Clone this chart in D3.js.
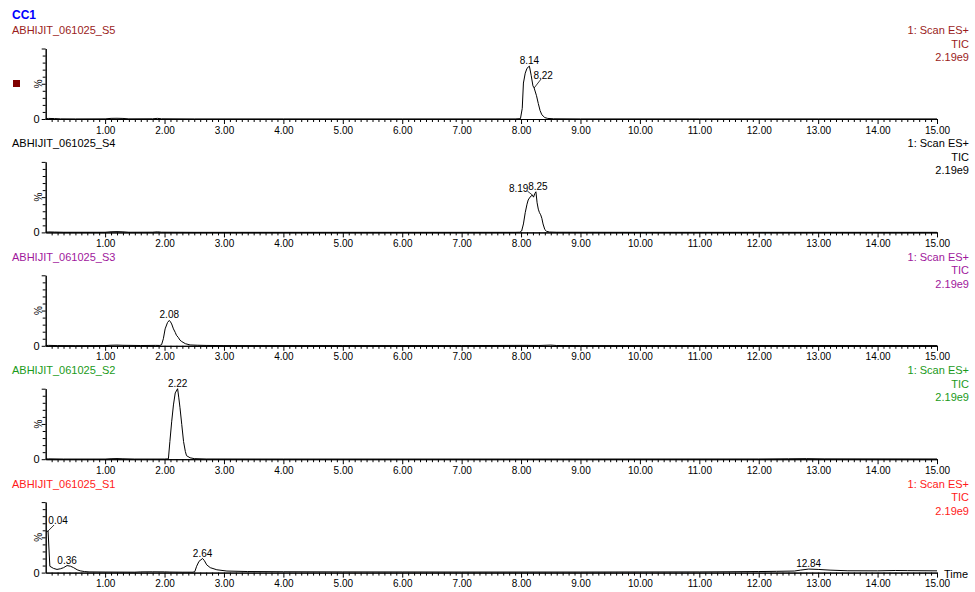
<!DOCTYPE html>
<html>
<head>
<meta charset="utf-8">
<script src="https://cdn.jsdelivr.net/npm/d3@7"></script>
<style>
  html, body { margin: 0; padding: 0; background: #fff; }
  svg { display: block; font-family: "Liberation Sans", Arial, sans-serif; }
</style>
</head>
<body>
<svg id="chart" width="975" height="592"></svg>
<script>
// ---------------- DATA ----------------
const chartTitle = "CC1";
const sampleNames = ["ABHIJIT_061025_S5", "ABHIJIT_061025_S4", "ABHIJIT_061025_S3", "ABHIJIT_061025_S2", "ABHIJIT_061025_S1"];
const scanLabel = "1: Scan ES+";
const ticLabel = "TIC";
const intensityLabel = "2.19e9";
const xTickLabels = ["1.00","2.00","3.00","4.00","5.00","6.00","7.00","8.00","9.00","10.00","11.00","12.00","13.00","14.00","15.00"];

// S5 : time (min), intensity (%)
const s5Time = [0.00,0.05,0.15,0.25,0.50,1.00,1.10,1.20,1.30,1.40,1.80,1.88,1.95,2.50,4.00,6.00,7.90,7.99,8.02,8.04,8.07,8.10,8.14,8.17,8.20,8.22,8.26,8.29,8.32,8.35,8.40,8.45,8.55,9.00,11.00,13.00,15.00];
const s5Pct  = [0.3, 0.8, 0.6, 0.2, 0.1, 0.2, 0.9, 1.0, 0.8, 0.2, 0.3, 0.9, 0.3, 0.1, 0.1, 0.1, 0.1, 0.5, 15,  51,  65,  72,  75,  62,  47,  44,  33,  22,  12,  6,   2,   0.8, 0.3, 0.1, 0.1, 0.1, 0.1];
const s5Peaks = [8.14, 8.22];

// S4
const s4Time = [0.00,0.05,0.15,0.30,1.00,1.10,1.20,1.30,1.40,1.80,1.88,1.95,2.50,4.00,6.00,7.90,7.98,8.01,8.04,8.07,8.10,8.12,8.15,8.19,8.21,8.23,8.25,8.27,8.29,8.31,8.33,8.35,8.37,8.40,8.43,8.48,8.60,10.00,12.00,15.00];
const s4Pct  = [0.3, 0.7, 0.5, 0.2, 0.2, 0.9, 1.1, 0.8, 0.2, 0.3, 0.8, 0.3, 0.1, 0.1, 0.1, 0.1, 0.3, 2,   12,  28,  40,  46,  50,  53,  50,  55,  57.6,42,  33,  28,  25,  20,  12,  4,   1.5, 0.5, 0.2, 0.1, 0.1, 0.1];
const s4Peaks = [8.19, 8.25];

// S3
const s3Time = [0.00,0.05,0.20,0.50,1.00,1.10,1.20,1.30,1.60,1.85,1.92,1.95,1.98,2.01,2.05,2.08,2.10,2.12,2.15,2.18,2.20,2.23,2.26,2.29,2.35,2.43,2.55,2.70,3.00,5.00,7.00,8.10,8.30,8.50,8.60,9.00,11.00,13.00,15.00];
const s3Pct  = [0.4, 0.6, 0.3, 0.2, 0.3, 0.8, 1.0, 0.7, 0.4, 0.6, 0.5, 1.5, 10,  24,  33,  36,  34,  31,  24,  19,  15,  12,  8,   6,   3,   1.2, 0.8, 0.5, 0.3, 0.3, 0.3, 0.6, 0.4, 1.0, 0.4, 0.3, 0.3, 0.4, 0.3];
const s3Peaks = [2.08];

// S2
const s2Time = [0.00,0.05,0.30,1.00,1.10,1.20,1.30,1.50,2.00,2.065,2.09,2.12,2.15,2.18,2.22,2.24,2.26,2.29,2.32,2.35,2.37,2.43,2.50,2.70,4.00,8.00,12.00,12.50,12.80,13.10,15.00];
const s2Pct  = [0.3, 0.5, 0.2, 0.2, 0.7, 0.9, 0.6, 0.2, 0.2, 0.5,  25,  53,  77,  94,  100, 87,  73,  49,  25,  11,  5,   2,   0.8, 0.3, 0.2, 0.2, 0.3, 0.6, 0.8, 0.5, 0.3];
const s2Peaks = [2.22];

// S1
const s1Time = [0.01,0.04,0.07,0.13,0.19,0.25,0.30,0.36,0.42,0.47,0.53,0.58,0.65,0.73,1.00,1.50,1.60,1.80,2.00,2.09,2.30,2.48,2.51,2.54,2.58,2.64,2.67,2.71,2.77,2.88,3.05,3.40,4.00,5.00,6.00,7.00,8.00,9.00,10.00,11.00,11.50,12.00,12.30,12.60,12.70,12.84,13.00,13.20,13.50,14.00,14.30,14.50,15.00];
const s1Pct  = [58,  59,  9,   6,   4.5, 5.5, 7,   10,  9,   7,   4,   2.5, 1.5, 1.0, 0.8, 0.6, 1.0, 1.1, 1.0, 0.8, 0.6, 0.6, 1.5, 9,   16,  20,  17,  11,  7,   4,   2.2, 1.5, 1.2, 1.0, 0.9, 0.8, 0.8, 0.8, 0.9, 1.0, 1.2, 1.5, 1.8, 2.2, 3.5, 5.0, 4.5, 3.5, 2.6, 2.5, 3.0, 2.8, 2.5];
const s1Peaks = [0.04, 0.36, 2.64, 12.84];

const seriesTimes = [s5Time, s4Time, s3Time, s2Time, s1Time];
const seriesPcts  = [s5Pct,  s4Pct,  s3Pct,  s2Pct,  s1Pct];
const seriesPeaks = [s5Peaks, s4Peaks, s3Peaks, s2Peaks, s1Peaks];

// ---------------- STYLE / LAYOUT ----------------
const titleColors = ["#9a1c1c", "#000000", "#a0179c", "#1a9a1a", "#ff1a1a"];
const W = 975, H = 592;
const x0 = 45.7, x1 = 937;
const panelStep = 113.4;
const firstTop = 48.5, firstBottom = 119;

const svg = d3.select("#chart");
svg.append("rect").attr("width", W).attr("height", H).attr("fill", "#fff");

const x = d3.scaleLinear().domain([0, 15]).range([x0, x1]);

svg.append("text").attr("x", 12).attr("y", 19)
  .attr("font-size", 12).attr("font-weight", "bold").attr("fill", "#0000ff")
  .text(chartTitle);

sampleNames.forEach((name, i) => {
  const off = i * panelStep;
  const top = firstTop + off, bottom = firstBottom + off;
  const y = d3.scaleLinear().domain([0, 100]).range([bottom, top]);
  const g = svg.append("g");
  const col = titleColors[i];

  // titles
  g.append("text").attr("x", 12).attr("y", 34 + off).attr("font-size", 11).attr("fill", col).text(name);
  const rt = [scanLabel, ticLabel, intensityLabel];
  rt.forEach((t, k) => {
    g.append("text").attr("x", 969).attr("y", 34 + off + k * 13.5)
      .attr("text-anchor", "end").attr("font-size", 11).attr("fill", col).text(t);
  });

  // x axis: minor ticks
  const minorVals = d3.range(1, 150).map(v => v / 10).filter(v => Math.abs(v - Math.round(v)) > 1e-6);
  const xMinor = d3.axisBottom(x).tickValues(minorVals).tickSize(3).tickSizeOuter(0).tickFormat("");
  const gxm = g.append("g").attr("transform", `translate(0,${bottom})`).call(xMinor);
  const majorVals = d3.range(1, 16);
  const xMajor = d3.axisBottom(x).tickValues(majorVals).tickSize(5).tickSizeOuter(0)
    .tickPadding(2.5).tickFormat((d, k) => xTickLabels[k]);
  const gx = g.append("g").attr("transform", `translate(0,${bottom})`).call(xMajor);
  gx.selectAll("text").attr("font-size", 10).attr("fill", "#000").attr("font-family", "Liberation Sans, Arial, sans-serif");
  [gxm, gx].forEach(a => {
    a.select(".domain").attr("stroke", "#000").attr("stroke-width", 1);
    a.selectAll(".tick line").attr("stroke", "#000");
  });

  // y axis
  const yMinor = d3.axisLeft(y).tickValues(d3.range(10, 100, 10).filter(v => v !== 50)).tickSize(3).tickSizeOuter(0).tickFormat("");
  const gym = g.append("g").attr("transform", `translate(${x0},0)`).call(yMinor);
  const yMajor = d3.axisLeft(y).tickValues([0, 50, 100]).tickSize(4).tickSizeOuter(0).tickPadding(2)
    .tickFormat(d => d === 0 ? "0" : "");
  const gy = g.append("g").attr("transform", `translate(${x0},0)`).call(yMajor);
  gy.selectAll("text").attr("font-size", 11).attr("fill", "#000").attr("font-family", "Liberation Sans, Arial, sans-serif");
  [gym, gy].forEach(a => {
    a.select(".domain").attr("stroke", "#000");
    a.selectAll(".tick line").attr("stroke", "#000");
  });
  g.append("text").attr("transform", `translate(${x0 - 4},${y(50)}) rotate(-90)`)
    .attr("text-anchor", "middle").attr("font-size", 10).attr("fill", "#000").text("%");

  // trace
  const times = seriesTimes[i], pcts = seriesPcts[i];
  const pts = times.map((t, k) => [t, pcts[k]]);
  const line = d3.line().x(d => x(d[0])).y(d => y(d[1]));
  g.append("path").attr("d", line(pts)).attr("fill", "none").attr("stroke", "#000").attr("stroke-width", 1);

  // peak labels
  seriesPeaks[i].forEach(pt => {
    const k = d3.minIndex(times, t => Math.abs(t - pt));
    const px = x(times[k]), py = y(pcts[k]);
    const lab = pt.toFixed(2);
    let tx = px, ty = py - 2, anchor = "middle", leader = null;
    if (lab === "8.22") { tx = px + 9; ty = py - 9; anchor = "middle"; leader = [px, py, px + 7, py - 9]; }
    if (lab === "8.19") { tx = px - 4; ty = py - 3; anchor = "end"; leader = [px - 5, py - 4, px, py]; }
    if (lab === "8.25") { tx = px + 2; ty = py - 2; }
    if (lab === "0.04") { tx = px + 10; ty = py - 7; leader = [px, py, px + 6, py - 6]; }
    if (leader) {
      g.append("line").attr("x1", leader[0]).attr("y1", leader[1]).attr("x2", leader[2]).attr("y2", leader[3])
        .attr("stroke", "#000").attr("stroke-width", 0.8);
    }
    g.append("text").attr("x", tx).attr("y", ty).attr("text-anchor", anchor)
      .attr("font-size", 10).attr("fill", "#000").text(lab);
  });

  if (i === 0) {
    g.append("rect").attr("x", 13).attr("y", 80).attr("width", 7).attr("height", 7).attr("fill", "#800000");
  }
  if (i === sampleNames.length - 1) {
    g.append("text").attr("x", 944).attr("y", bottom + 5).attr("font-size", 11).attr("fill", "#000").text("Time");
  }
});
</script>
</body>
</html>
